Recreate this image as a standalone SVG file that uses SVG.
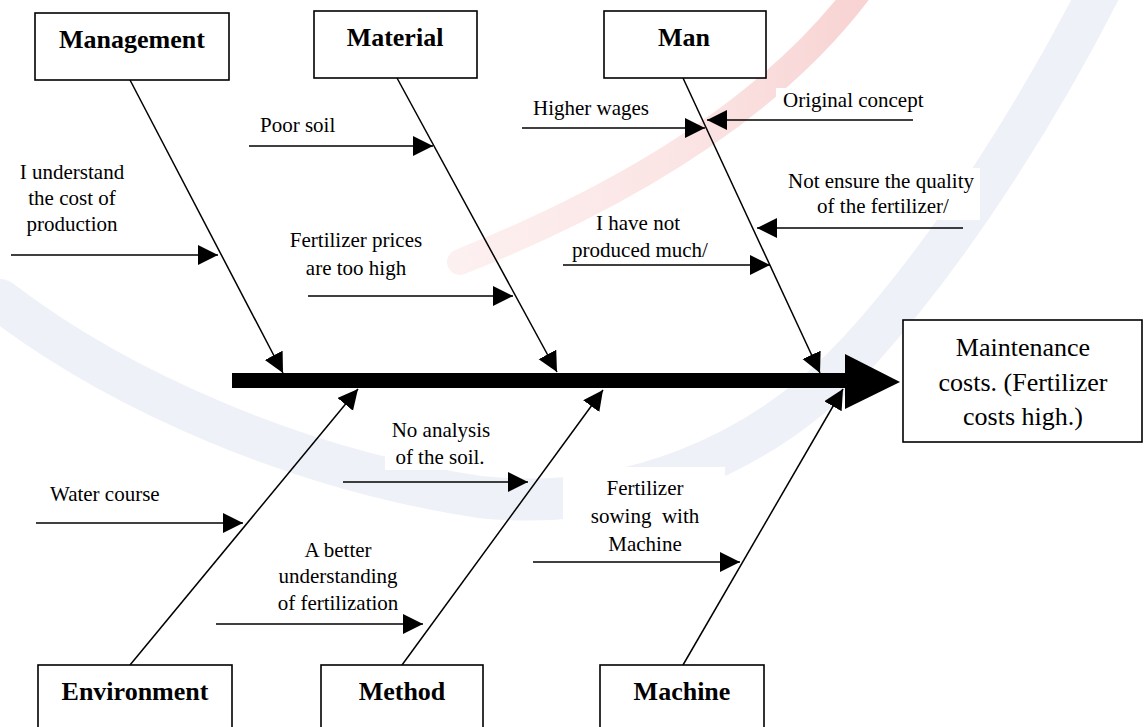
<svg xmlns="http://www.w3.org/2000/svg" width="1145" height="727" viewBox="0 0 1145 727">
<style>
.box{fill:#fff;stroke:#000;stroke-width:1.6}
.cat{font-family:"Liberation Serif","Times New Roman",serif;font-weight:bold;font-size:26px;fill:#000;text-anchor:middle}
.lbl{font-family:"Liberation Serif","Times New Roman",serif;font-size:21px;fill:#000}
.mid{text-anchor:middle}
.eff{font-family:"Liberation Serif","Times New Roman",serif;font-size:26px;fill:#000;text-anchor:middle}
.bone{stroke:#000;stroke-width:1.5;fill:none;marker-end:url(#ah)}
.sub{stroke:#000;stroke-width:1.5;fill:none;marker-end:url(#ah)}
.bg{fill:#fff}
</style>
<defs>
<marker id="ah" markerUnits="userSpaceOnUse" markerWidth="22" markerHeight="22" refX="20" refY="10" orient="auto">
<path d="M0,0 L20,10 L0,20 Z" fill="#000"/>
</marker>
<linearGradient id="rg" x1="0" y1="0" x2="1" y2="0">
<stop offset="0" stop-color="#fdf0f0"/>
<stop offset="0.6" stop-color="#fbe3e3"/>
<stop offset="1" stop-color="#f8d3d3"/>
</linearGradient>
</defs>
<rect width="1145" height="727" fill="#fff"/>
<g id="watermark">
<path d="M0,300 C120,392 300,470 480,497 C620,512 760,460 860,350 C960,240 1050,90 1105,-20" fill="none" stroke="#eef1f8" stroke-width="42" stroke-linecap="round"/>
<path d="M860,-10 Q740,150 460,262" fill="none" stroke="url(#rg)" stroke-width="26" stroke-linecap="round"/>
</g>
<g id="label-backgrounds">
<rect class="bg" x="776" y="88" width="146" height="26"/>
<rect class="bg" x="780" y="168" width="200" height="52"/>
<rect class="bg" x="286" y="228" width="140" height="52"/>
<rect class="bg" x="563" y="467" width="162" height="90"/>
<rect class="bg" x="385" y="418" width="115" height="52"/>
</g>
<g id="connectors">
<rect id="spine" x="232" y="373" width="613" height="15" fill="#000"/>
<path id="spine-head" d="M845,354 L900,382 L845,409 Z" fill="#000"/>
<line class="bone" x1="130" y1="80" x2="283" y2="373"/>
<line class="bone" x1="397" y1="78" x2="557" y2="372"/>
<line class="bone" x1="683" y1="78" x2="820" y2="373"/>
<line class="bone" x1="130" y1="665" x2="358" y2="389"/>
<line class="bone" x1="402" y1="665" x2="603" y2="390"/>
<line class="bone" x1="683" y1="665" x2="843" y2="389"/>
<line class="sub" x1="11" y1="255" x2="218" y2="255"/>
<line class="sub" x1="249" y1="146" x2="433" y2="146"/>
<line class="sub" x1="308" y1="296" x2="513" y2="296"/>
<line class="sub" x1="522" y1="128" x2="705" y2="128"/>
<line class="sub" x1="913" y1="120" x2="707" y2="120"/>
<line class="sub" x1="963" y1="228" x2="757" y2="228"/>
<line class="sub" x1="563" y1="265" x2="770" y2="265"/>
<line class="sub" x1="36" y1="523" x2="243" y2="523"/>
<line class="sub" x1="343" y1="482" x2="528" y2="482"/>
<line class="sub" x1="216" y1="624" x2="423" y2="624"/>
<line class="sub" x1="533" y1="562" x2="740" y2="562"/>
</g>
<g id="management"><rect class="box" x="35" y="13" width="194" height="67"/><text class="cat" x="132" y="48">Management</text></g>
<g id="material"><rect class="box" x="314" y="11" width="163" height="67"/><text class="cat" x="395" y="46">Material</text></g>
<g id="man"><rect class="box" x="604" y="11" width="162" height="67"/><text class="cat" x="684" y="46">Man</text></g>
<g id="environment"><rect class="box" x="38" y="665" width="194" height="70"/><text class="cat" x="135" y="700">Environment</text></g>
<g id="method"><rect class="box" x="321" y="665" width="162" height="70"/><text class="cat" x="402" y="700">Method</text></g>
<g id="machine"><rect class="box" x="600" y="665" width="164" height="70"/><text class="cat" x="682" y="700">Machine</text></g>
<g id="effect"><rect class="box" x="903" y="320" width="239" height="122"/>
<text class="eff" x="1023" y="356">Maintenance</text>
<text class="eff" x="1023" y="391">costs. (Fertilizer</text>
<text class="eff" x="1023" y="425">costs high.)</text></g>
<g id="labels">
<text class="lbl mid" x="72" y="179">I understand</text>
<text class="lbl mid" x="72" y="205">the cost of</text>
<text class="lbl mid" x="72" y="231">production</text>
<text class="lbl" x="260" y="132">Poor soil</text>
<text class="lbl mid" x="356" y="247">Fertilizer prices</text>
<text class="lbl mid" x="356" y="275">are too high</text>
<text class="lbl" x="533" y="115">Higher wages</text>
<text class="lbl" x="783" y="107">Original concept</text>
<text class="lbl mid" x="881" y="188">Not ensure the quality</text>
<text class="lbl mid" x="883" y="213">of the fertilizer/</text>
<text class="lbl mid" x="638" y="230">I have not</text>
<text class="lbl mid" x="640" y="257">produced much/</text>
<text class="lbl" x="50" y="501">Water course</text>
<text class="lbl mid" x="441" y="437">No analysis</text>
<text class="lbl mid" x="440" y="464">of the soil.</text>
<text class="lbl mid" x="338" y="557">A better</text>
<text class="lbl mid" x="338" y="583">understanding</text>
<text class="lbl mid" x="338" y="610">of fertilization</text>
<text class="lbl mid" x="645" y="495">Fertilizer</text>
<text class="lbl mid" x="645" y="523" xml:space="preserve">sowing  with</text>
<text class="lbl mid" x="645" y="551">Machine</text>
</g>
</svg>
